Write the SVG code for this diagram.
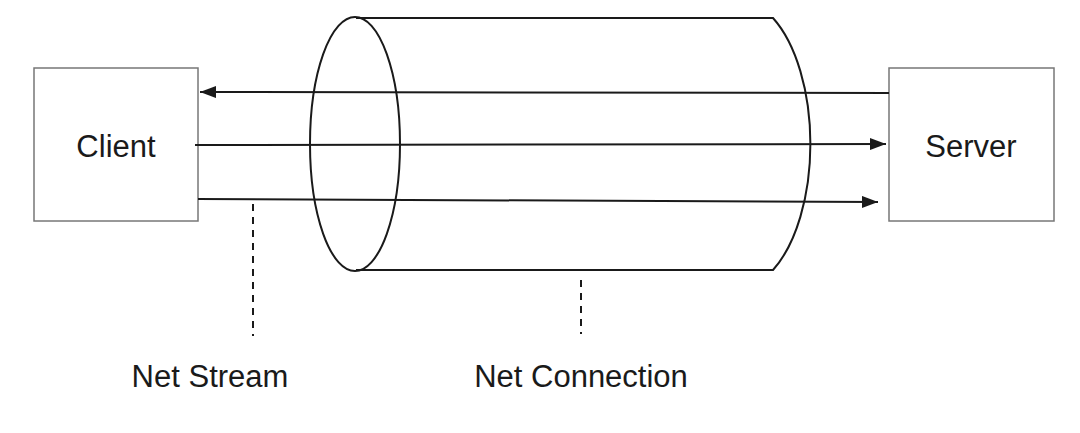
<svg xmlns="http://www.w3.org/2000/svg" width="1080" height="433" viewBox="0 0 1080 433">
<style>
.box{fill:#fff;stroke:#777;stroke-width:1.5}
.ln{fill:none;stroke:#1a1a1a;stroke-width:2}
.dash{fill:none;stroke:#1a1a1a;stroke-width:2;stroke-dasharray:7,6}
.t{font-family:"Liberation Sans",Arial,sans-serif;font-size:31px;fill:#1a1a1a;text-anchor:middle}
</style>
<defs>
<marker id="ah" viewBox="0 0 16 12" refX="16" refY="6" markerWidth="16" markerHeight="12" markerUnits="userSpaceOnUse" orient="auto">
<path d="M0,0 L16,6 L0,12 Z" fill="#1a1a1a"/>
</marker>
</defs>
<rect width="1080" height="433" fill="#fff"/>
<g id="connection">
<ellipse class="ln" cx="355" cy="144" rx="45" ry="127"/>
<path class="ln" d="M356,18 L773,18 A74 145 0 0 1 773,270 L356,270"/>
</g>
<g id="client">
<rect class="box" x="34" y="68" width="164" height="153"/>
<text class="t" x="116" y="157">Client</text>
</g>
<g id="server">
<rect class="box" x="889" y="68" width="165" height="153"/>
<text class="t" x="971" y="157">Server</text>
</g>
<g id="connectors">
<line class="ln" x1="889" y1="93" x2="200" y2="92" marker-end="url(#ah)"/>
<line class="ln" x1="195" y1="145" x2="886" y2="144" marker-end="url(#ah)"/>
<line class="ln" x1="198" y1="199" x2="878" y2="202" marker-end="url(#ah)"/>
<line class="dash" x1="253" y1="204" x2="253" y2="336"/>
<line class="dash" x1="581" y1="280" x2="581" y2="334"/>
</g>
<g id="labels">
<text class="t" x="210" y="387">Net Stream</text>
<text class="t" x="581" y="387">Net Connection</text>
</g>
</svg>
